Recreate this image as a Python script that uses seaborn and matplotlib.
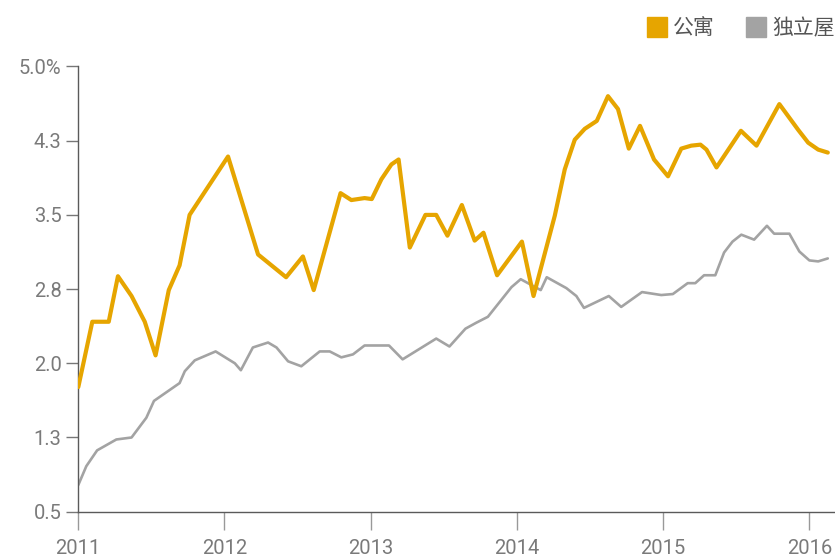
import matplotlib
matplotlib.use("Agg")
import matplotlib.pyplot as plt
from matplotlib.lines import Line2D
import pandas as pd
import seaborn as sns

# ---- data ----
apt_dates = ["2011-01-01", "2011-02-05", "2011-03-18", "2011-04-10", "2011-05-14", "2011-06-16",
             "2011-07-13", "2011-08-15", "2011-09-11", "2011-10-06", "2012-01-10", "2012-03-25",
             "2012-06-03", "2012-07-15", "2012-08-11", "2012-10-17", "2012-11-13", "2012-12-16",
             "2013-01-03", "2013-01-27", "2013-02-21", "2013-03-11", "2013-04-08", "2013-05-17",
             "2013-06-13", "2013-07-11", "2013-08-16", "2013-09-17", "2013-10-09", "2013-11-12",
             "2014-01-13", "2014-02-11", "2014-04-05", "2014-04-30", "2014-05-25", "2014-06-19",
             "2014-07-19", "2014-08-16", "2014-09-10", "2014-10-07", "2014-11-04", "2014-12-09",
             "2015-01-13", "2015-02-15", "2015-03-12", "2015-04-04", "2015-04-19", "2015-05-14",
             "2015-07-14", "2015-08-22", "2015-10-18", "2015-12-04", "2015-12-29", "2016-01-23",
             "2016-02-16"]
apt_values = [1.76, 2.42, 2.42, 2.88, 2.68, 2.42,
              2.08, 2.74, 2.99, 3.50, 4.09, 3.10,
              2.87, 3.08, 2.74, 3.72, 3.65, 3.67,
              3.66, 3.86, 4.01, 4.06, 3.17, 3.50,
              3.50, 3.29, 3.60, 3.24, 3.32, 2.89,
              3.23, 2.68, 3.49, 3.96, 4.26, 4.37,
              4.45, 4.70, 4.57, 4.17, 4.40, 4.06,
              3.89, 4.17, 4.20, 4.21, 4.16, 3.98,
              4.35, 4.20, 4.62, 4.36, 4.23, 4.16,
              4.13]

house_dates = ["2011-01-01", "2011-01-21", "2011-02-17", "2011-04-06", "2011-05-14", "2011-06-20",
               "2011-07-09", "2011-09-11", "2011-09-24", "2011-10-19", "2011-12-10", "2012-01-27",
               "2012-02-11", "2012-03-12", "2012-04-19", "2012-05-10", "2012-06-08", "2012-07-11",
               "2012-08-26", "2012-09-20", "2012-10-19", "2012-11-17", "2012-12-16", "2013-02-15",
               "2013-03-21", "2013-06-13", "2013-07-16", "2013-08-25", "2013-09-21", "2013-10-20",
               "2013-12-18", "2014-01-10", "2014-03-01", "2014-03-16", "2014-05-04", "2014-05-29",
               "2014-06-17", "2014-08-18", "2014-09-18", "2014-11-09", "2014-12-27", "2015-01-25",
               "2015-03-03", "2015-03-22", "2015-04-13", "2015-05-11", "2015-06-02", "2015-06-23",
               "2015-07-15", "2015-08-16", "2015-09-17", "2015-10-05", "2015-11-12", "2015-12-07",
               "2016-01-01", "2016-01-23", "2016-02-16"]
house_values = [0.77, 0.96, 1.12, 1.23, 1.25, 1.45,
                1.62, 1.80, 1.92, 2.03, 2.12, 2.00,
                1.93, 2.16, 2.21, 2.16, 2.02, 1.97,
                2.12, 2.12, 2.06, 2.09, 2.18, 2.18,
                2.04, 2.25, 2.17, 2.35, 2.41, 2.47,
                2.77, 2.85, 2.74, 2.87, 2.76, 2.68,
                2.56, 2.68, 2.57, 2.72, 2.69, 2.70,
                2.81, 2.81, 2.89, 2.89, 3.12, 3.23,
                3.30, 3.25, 3.39, 3.31, 3.31, 3.13,
                3.04, 3.03, 3.06]

series_names = ["公寓", "独立屋"]
series_colors = ["#E6A500", "#A3A3A3"]
ytick_values = [0.5, 1.25, 2.0, 2.75, 3.5, 4.25, 5.0]
ytick_labels = ["0.5", "1.3", "2.0", "2.8", "3.5", "4.3", "5.0%"]
xtick_years = [2011, 2012, 2013, 2014, 2015, 2016]

df = pd.concat([
    pd.DataFrame({"date": pd.to_datetime(apt_dates), "value": apt_values, "type": series_names[0]}),
    pd.DataFrame({"date": pd.to_datetime(house_dates), "value": house_values, "type": series_names[1]}),
], ignore_index=True)

# ---- figure ----
sns.set_style("white")
plt.rcParams["font.family"] = ["Roboto", "Noto Sans CJK SC", "DejaVu Sans"]

fig = plt.figure(figsize=(8.35, 5.59), dpi=100)
ax = fig.add_axes([78.3 / 835, 1 - 511.7 / 559, 1 - 78.3 / 835, (511.7 - 66.5) / 559])

palette = dict(zip(series_names, series_colors))
widths = {series_names[0]: 3.0, series_names[1]: 1.9}
for name in series_names:
    sub = df[df["type"] == name]
    sns.lineplot(data=sub, x="date", y="value", color=palette[name],
                 linewidth=widths[name], ax=ax, legend=False,
                 zorder=3 if name == series_names[0] else 2)

ax.set_xlim(pd.Timestamp("2011-01-01"), pd.Timestamp("2016-03-05"))
ax.set_ylim(0.5, 5.0)
ax.set_xlabel("")
ax.set_ylabel("")

ax.set_yticks(ytick_values)
ax.set_yticklabels(ytick_labels)
ax.set_xticks([pd.Timestamp(f"{y}-01-01") for y in xtick_years])
ax.set_xticklabels([str(y) for y in xtick_years])

for s in ["top", "right"]:
    ax.spines[s].set_visible(False)
for s in ["left", "bottom"]:
    ax.spines[s].set_color("#5a5a5a")
    ax.spines[s].set_linewidth(1.0)

ax.tick_params(axis="y", length=9, width=1.0, color="#777777", labelsize=14.5,
               labelcolor="#7a7a7a", pad=3, left=True)
ax.tick_params(axis="x", length=13, width=1.0, color="#999999", labelsize=14.5,
               labelcolor="#7a7a7a", pad=7, bottom=True)

handles = [Line2D([0], [0], marker="s", linestyle="none", markersize=15,
                  markerfacecolor=c, markeredgecolor=c) for c in series_colors]
leg = fig.legend(handles, series_names, loc="upper right", bbox_to_anchor=(1.017, 0.995),
                 ncol=2, frameon=False, fontsize=15, handletextpad=0.25,
                 columnspacing=1.5, handlelength=1.0, borderaxespad=0.3)
for t in leg.get_texts():
    t.set_color("#555555")
    t.set_family(["Noto Sans CJK SC", "DejaVu Sans"])

fig.savefig("out.png", dpi=100)
